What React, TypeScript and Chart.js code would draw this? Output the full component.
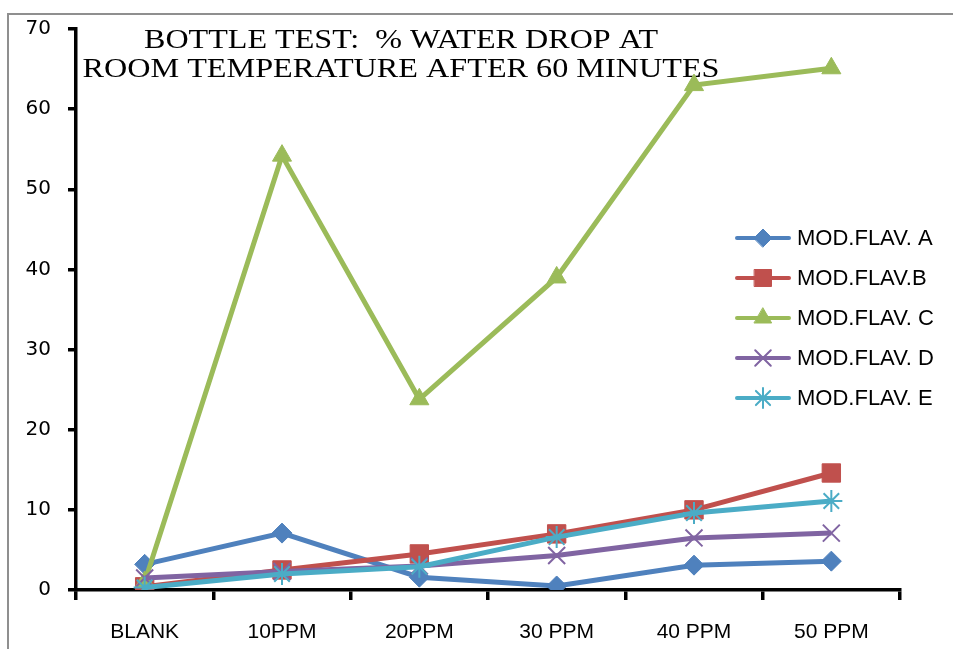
import React, { useEffect, useRef } from 'react';
import { Chart, registerables } from 'chart.js';
import { drawPoint } from 'chart.js/helpers';

Chart.register(...registerables);

const categories = ['BLANK', '10PPM', '20PPM', '30 PPM', '40 PPM', '50 PPM'];
const seriesNames = ['MOD.FLAV. A', 'MOD.FLAV.B', 'MOD.FLAV. C', 'MOD.FLAV. D', 'MOD.FLAV. E'];
const flavA = [3.2, 7.1, 1.6, 0.5, 3.1, 3.6];
const flavB = [0.4, 2.5, 4.5, 7.0, 10.0, 14.6];
const flavC = [1.0, 54.2, 23.8, 39.0, 63.0, 65.1];
const flavD = [1.5, 2.3, 3.0, 4.3, 6.5, 7.1];
const flavE = [0.3, 2.0, 2.9, 6.6, 9.6, 11.1];
const yMin = 0;
const yMax = 70;
const yStep = 10;
const titleLines = ['BOTTLE TEST:  % WATER DROP AT', 'ROOM TEMPERATURE AFTER 60 MINUTES'];

const seriesValues = [flavA, flavB, flavC, flavD, flavE];
const seriesColors = ['#4F81BD', '#C0504D', '#9BBB59', '#8064A2', '#4BACC6'];
const seriesPoints = ['rectRot', 'rect', 'triangle', 'crossRot', 'star'];
const seriesRadius = [10, 13, 11, 12, 11];
const seriesPointBorder = [1, 1, 1, 2, 2];

const framePlugin = {
  id: 'frame',
  beforeDraw(chart: any) {
    const ctx = chart.ctx;
    ctx.save();
    ctx.fillStyle = '#ffffff';
    ctx.fillRect(0, 0, chart.width, chart.height);
    ctx.strokeStyle = '#8f8f8f';
    ctx.lineWidth = 2;
    ctx.beginPath();
    ctx.moveTo(953, 14);
    ctx.lineTo(8, 14);
    ctx.lineTo(8, 649);
    ctx.stroke();
    ctx.restore();
  },
};

const titlePlugin = {
  id: 'overlayTitle',
  beforeDatasetsDraw(chart: any) {
    const ctx = chart.ctx;
    ctx.save();
    ctx.fillStyle = '#000';
    ctx.font = '28px "Liberation Serif", "Times New Roman", serif';
    ctx.textAlign = 'center';
    ctx.textBaseline = 'alphabetic';
    const widths = [514, 637];
    titleLines.forEach((line, i) => {
      const w = ctx.measureText(line).width;
      ctx.save();
      ctx.translate(401, 48 + i * 28.5);
      ctx.scale(widths[i] / w, 1);
      ctx.fillText(line, 0, 0);
      ctx.restore();
    });
    ctx.restore();
  },
};

const legendPlugin = {
  id: 'overlayLegend',
  afterDraw(chart: any) {
    const ctx = chart.ctx;
    chart.data.datasets.forEach((ds: any, i: number) => {
      const y = 238 + i * 40;
      ctx.save();
      ctx.strokeStyle = ds.borderColor;
      ctx.lineWidth = 4;
      ctx.lineCap = 'round';
      ctx.beginPath();
      ctx.moveTo(737, y);
      ctx.lineTo(789, y);
      ctx.stroke();
      ctx.fillStyle = ds.pointBackgroundColor;
      ctx.strokeStyle = ds.pointBorderColor;
      ctx.lineWidth = ds.pointBorderWidth;
      drawPoint(ctx, { pointStyle: ds.pointStyle, radius: ds.pointRadius - 1, rotation: 0, borderWidth: ds.pointBorderWidth }, 763, y);
      ctx.fillStyle = '#000';
      ctx.font = '22px "Liberation Sans", Arial, sans-serif';
      ctx.textAlign = 'left';
      ctx.textBaseline = 'middle';
      ctx.fillText(ds.label, 797, y + 1);
      ctx.restore();
    });
  },
};

export default function App() {
  const ref = useRef<HTMLCanvasElement | null>(null);
  useEffect(() => {
    if (!ref.current) return;
    const chart = new Chart(ref.current, {
      type: 'line',
      data: {
        labels: categories,
        datasets: seriesValues.map((vals, i) => ({
          label: seriesNames[i],
          data: vals,
          borderColor: seriesColors[i],
          backgroundColor: seriesColors[i],
          pointBackgroundColor: seriesColors[i],
          pointBorderColor: seriesColors[i],
          pointStyle: seriesPoints[i] as any,
          pointRadius: seriesRadius[i],
          pointBorderWidth: seriesPointBorder[i],
          borderWidth: 5,
          tension: 0,
          fill: false,
          order: 5 - i,
        })),
      },
      options: {
        animation: false,
        responsive: false,
        devicePixelRatio: 1,
        layout: { padding: { top: 28, right: 53, left: 0, bottom: 0 } },
        plugins: {
          legend: { display: false },
          title: { display: false },
          tooltip: { enabled: false },
        },
        scales: {
          x: {
            type: 'category',
            offset: true,
            grid: {
              display: true,
              drawOnChartArea: false,
              drawTicks: true,
              tickLength: 10,
              color: '#000',
              lineWidth: 3.5,
              offset: true,
            },
            border: { display: true, color: '#000', width: 3.5 },
            ticks: {
              color: '#000',
              font: { family: '"Liberation Sans", Arial, sans-serif', size: 21 },
              padding: 20,
              maxRotation: 0,
            },
            afterFit(scale: any) {
              scale.height = 59;
            },
          },
          y: {
            min: yMin,
            max: yMax,
            ticks: {
              stepSize: yStep,
              color: '#000',
              font: { family: '"DejaVu Sans", Verdana, sans-serif', size: 20 },
              padding: 17,
            },
            grid: {
              display: true,
              drawOnChartArea: false,
              drawTicks: true,
              tickLength: 8,
              color: '#000',
              lineWidth: 3.5,
            },
            border: { display: true, color: '#000', width: 3.5 },
            afterFit(scale: any) {
              scale.width = 76;
            },
          },
        },
      },
      plugins: [framePlugin, titlePlugin, legendPlugin],
    });
    return () => chart.destroy();
  }, []);
  return (
    <div style={{ position: 'fixed', left: 0, top: 0, width: 953, height: 649, background: '#fff' }}>
      <canvas ref={ref} width={953} height={649} style={{ width: 953, height: 649, display: 'block' }} />
    </div>
  );
}
